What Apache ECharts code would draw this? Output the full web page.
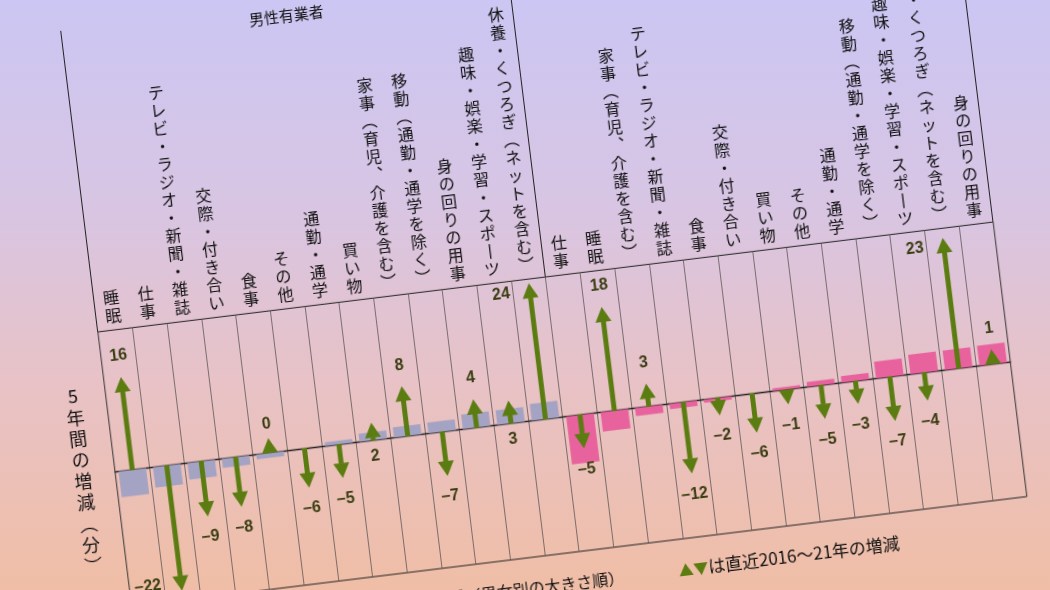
<!DOCTYPE html>
<html>
<head>
<meta charset="utf-8">
<script src="https://cdn.jsdelivr.net/npm/echarts@6/dist/echarts.min.js"></script>
<style>
  html, body { margin: 0; padding: 0; width: 1050px; height: 590px; overflow: hidden; }
  body { background: linear-gradient(to bottom, #cbc6f3 0%, #d8c5e3 35%, #e8c2c6 65%, #f0bea6 100%); }
  #main { position: absolute; left: 0; top: 0; width: 1060px; height: 740px;
          transform: rotate(-7deg); transform-origin: 0 0; }
</style>
</head>
<body>
<div id="main"></div>
<script>
// groups and categories (sorted by the 2011-16 change, per gender)
var groups = ['男性有業者', '女性有業者'];
var maleCats = ['睡眠', '仕事', 'テレビ・ラジオ・新聞・雑誌', '交際・付き合い', '食事', 'その他',
  '通勤・通学', '買い物', '家事（育児、介護を含む）', '移動（通勤・通学を除く）', '身の回りの用事',
  '趣味・娯楽・学習・スポーツ', '休養・くつろぎ（ネットを含む）'];
var femaleCats = ['仕事', '睡眠', '家事（育児、介護を含む）', 'テレビ・ラジオ・新聞・雑誌', '食事',
  '交際・付き合い', '買い物', 'その他', '通勤・通学', '移動（通勤・通学を除く）',
  '趣味・娯楽・学習・スポーツ', '休養・くつろぎ（ネットを含む）', '身の回りの用事'];

// bars: earlier 5-year change (minutes)
var maleBar = [-4.8, -3.8, -3.1, -1.7, -0.9, 0, 0.7, 1.5, 1.9, 2.0, 2.7, 2.7, 3.1];
var femaleBar = [-8.9, -3.6, -1.5, -1.0, -0.6, 0, 0.5, 0.9, 1.2, 3.1, 3.6, 3.6, 3.7];

// arrows: change 2016-21 (minutes)
var maleRecent = [16, -22, -9, -8, 0, -6, -5, 2, 8, -7, 4, 3, 24];
var femaleRecent = [-5, 18, 3, -12, -2, -6, -1, -5, -3, -7, -4, 23, 1];

var yMin = -25, yMax = 26;

var GREEN = '#5b7c10';
var GREY = '#a5a3c3';
var PINK = '#e8629d';
var LABEL = '#3a3d12';
var JP = '"Noto Sans CJK JP", "Noto Sans CJK SC", sans-serif';

// vertical writing forms
var VMAP = { '（': '︵', '）': '︶', '、': '︑', 'ー': '丨' };
function vert(s) {
  return Array.from(s).map(function (c) { return VMAP[c] || c; }).join('\n');
}

var cats = maleCats.map(function (c) { return 'm|' + c; })
  .concat(femaleCats.map(function (c) { return 'f|' + c; }));
var bars = maleBar.concat(femaleBar);
var recent = maleRecent.concat(femaleRecent);
var nMale = maleCats.length;

// labels that sit under the baseline instead of past the arrow tip
var flipped = [7, 11];

var HEAD_H = 15, HEAD_W = 16, SHAFT = 5, TIP_EXTRA = 6.7;

function fmt(v) { return v < 0 ? '−' + Math.abs(v) : String(v); }

function renderArrow(params, api) {
  var idx = api.value(0), val = api.value(1);
  var base = api.coord([idx, 0]);
  var unit = api.size([0, 1])[1];
  var dir = val >= 0 ? -1 : 1;
  var len = Math.max(Math.abs(val) * unit + TIP_EXTRA, HEAD_H);
  var x = base[0], y0 = base[1];
  var tipY = y0 + dir * len;
  var neckY = tipY - dir * HEAD_H;
  var children = [];
  if (len > HEAD_H) {
    children.push({
      type: 'rect',
      shape: { x: x - SHAFT / 2, y: Math.min(y0, neckY) - 0.5, width: SHAFT, height: Math.abs(neckY - y0) + 1 },
      style: { fill: GREEN }
    });
  }
  children.push({
    type: 'polygon',
    shape: { points: [[x - HEAD_W / 2, neckY], [x + HEAD_W / 2, neckY], [x, tipY]] },
    style: { fill: GREEN }
  });
  var tx, ty, align = 'center';
  if (Math.abs(val) >= 20) {
    tx = x - 20; ty = tipY - dir * 8; align = 'right';
  } else if (flipped.indexOf(idx) >= 0) {
    tx = x; ty = y0 - dir * 16;
  } else {
    tx = x; ty = tipY + dir * (val === 0 ? 14 : 21);
  }
  children.push({
    type: 'text',
    style: {
      text: fmt(val), x: tx, y: ty, align: align, verticalAlign: 'middle',
      fill: LABEL, font: 'bold 16px "Liberation Sans", Arial, sans-serif'
    }
  });
  return { type: 'group', children: children };
}

var chart = echarts.init(document.getElementById('main'));
var option = {
  animation: false,
  grid: [
    { left: 56.7, top: 341.4, width: 902, height: 276.6, show: true,
      borderColor: '#222', borderWidth: 1, backgroundColor: 'transparent' },
    { left: 56.7, top: 38, width: 902, height: 303.4 }
  ],
  xAxis: [
    {
      type: 'category', gridIndex: 0, data: cats, position: 'top',
      axisLine: { show: false, onZero: false }, axisTick: { show: false },
      axisLabel: {
        interval: 0, margin: 5, color: '#111', fontFamily: JP, fontSize: 16, lineHeight: 18,
        formatter: function (v) { return vert(v.slice(2)); }
      },
      splitLine: { show: true, interval: 0, lineStyle: { color: '#5e5858', width: 0.8 } }
    },
    {
      type: 'category', gridIndex: 0, data: cats, position: 'bottom',
      axisLine: { show: true, onZero: true, lineStyle: { color: '#222', width: 1.3 } },
      axisTick: { show: false }, axisLabel: { show: false }
    },
    {
      type: 'category', gridIndex: 1, data: groups, position: 'top',
      axisLine: { show: false, onZero: false }, axisTick: { show: false },
      axisLabel: { inside: true, margin: 5, color: '#111', fontFamily: JP, fontSize: 15 },
      splitLine: { show: true, interval: 0, lineStyle: { color: '#222', width: 1 } }
    }
  ],
  yAxis: [
    {
      type: 'value', gridIndex: 0, min: yMin, max: yMax,
      axisLine: { show: false }, axisTick: { show: false }, axisLabel: { show: false },
      splitLine: { show: false }
    },
    { type: 'value', gridIndex: 1, show: false, min: 0, max: 1 }
  ],
  series: [
    {
      type: 'bar', xAxisIndex: 0, yAxisIndex: 0, barWidth: '80%', data: bars,
      itemStyle: { color: function (p) { return p.dataIndex < nMale ? GREY : PINK; } },
      silent: true
    },
    {
      type: 'custom', xAxisIndex: 0, yAxisIndex: 0, renderItem: renderArrow,
      encode: { x: 0, y: 1 }, z: 5, silent: true,
      data: recent.map(function (v, i) { return [i, v]; })
    }
  ],
  graphic: [
    {
      type: 'text', x: 24, y: 488, silent: true,
      style: { text: vert('5年間の増減（分）'), align: 'center', verticalAlign: 'middle',
        fill: '#111', font: '18px ' + JP, lineHeight: 21.4 }
    },
    {
      type: 'text', x: 549, y: 649, silent: true,
      style: { text: '棒は2011～16年の増減（男女別の大きさ順）', align: 'right', verticalAlign: 'middle',
        fill: '#111', font: '16px ' + JP }
    },
    {
      type: 'text', x: 604, y: 649, silent: true,
      style: { text: '{g|▲▼}は直近2016～21年の増減', align: 'left', verticalAlign: 'middle',
        fill: '#111', font: '17px ' + JP,
        rich: { g: { fill: GREEN, font: '15px ' + JP } } }
    }
  ]
};
chart.setOption(option);
</script>
</body>
</html>
